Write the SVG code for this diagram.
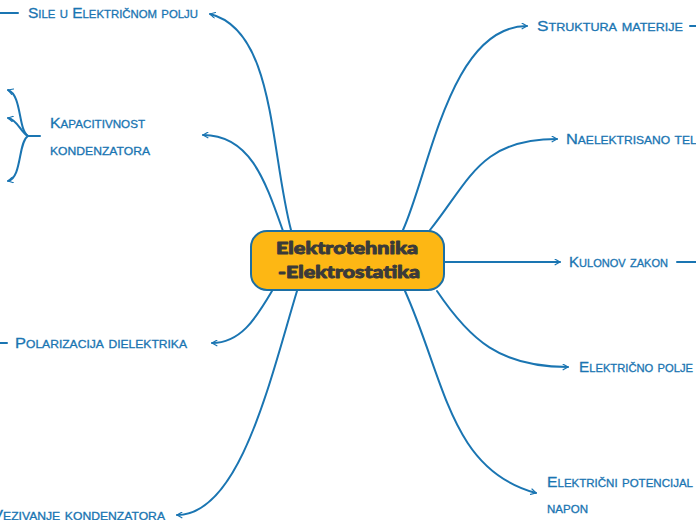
<svg xmlns="http://www.w3.org/2000/svg" width="696" height="520" viewBox="0 0 696 520">
<defs>
<marker id="arr" viewBox="0 0 10 10" refX="8" refY="5" markerWidth="7" markerHeight="7" orient="auto" markerUnits="userSpaceOnUse">
<path d="M1,1 L8,5 L1,9" fill="none" stroke="#1a75b2" stroke-width="1.7" stroke-linecap="round" stroke-linejoin="round"/>
</marker>
<style>
.c{fill:none;stroke:#1a75b2;stroke-width:2;stroke-linecap:round}
.a{marker-end:url(#arr)}
.t{font-family:"Liberation Sans",Arial,sans-serif;font-size:15px;font-variant:small-caps;fill:#1a75b2;stroke:#1a75b2;stroke-width:0.3}
.m{font-family:Lato,"Liberation Sans",sans-serif;font-weight:900;font-size:17px;fill:#3a3a3a;stroke:#3a3a3a;stroke-width:0.9;stroke-linejoin:round}
</style>
</defs>
<rect width="696" height="520" fill="#ffffff"/>
<g id="connectors">
<path class="c a" d="M291,230 C270,150 275,30 210,14"/>
<path class="c a" d="M283,231 C265,180 250,135 203,135"/>
<path class="c a" d="M272,291 C255,320 240,343 212,343"/>
<path class="c a" d="M297,291 C270,380 240,515 177,515"/>
<path class="c a" d="M403,230 C430,170 450,26 527,26"/>
<path class="c a" d="M430,230 C470,180 480,139 557,139"/>
<path class="c a" d="M444,262 L560,262"/>
<path class="c a" d="M437,291 C470,340 500,367 568,367"/>
<path class="c a" d="M405,291 C445,380 450,470 536,493"/>
<path class="c" d="M0,13 L18,13"/>
<path class="c" d="M0,343 L7,343"/>
<path class="c" d="M690,26 L696,26"/>
<path class="c" d="M677,262 L696,262"/>
<path class="c" d="M40,136 L28,136"/>
<path class="c a" d="M28,136 C18,130 22,95 8,90"/>
<path class="c a" d="M28,136 C20,132 18,120 8,118"/>
<path class="c a" d="M28,136 C18,142 22,178 8,181"/>
</g>
<g id="center">
<rect x="251" y="231" width="193" height="59" rx="16" fill="#fdb714" stroke="#1c6fa4" stroke-width="2"/>
<text class="m" x="276" y="254" textLength="142" lengthAdjust="spacingAndGlyphs">Elektrotehnika</text>
<text class="m" x="278" y="278" textLength="142" lengthAdjust="spacingAndGlyphs">-Elektrostatika</text>
</g>
<g id="sile"><text class="t" x="28" y="18" textLength="170" lengthAdjust="spacingAndGlyphs">Sile u Električnom polju</text></g>
<g id="kapacitivnost">
<text class="t" x="50" y="128" textLength="95" lengthAdjust="spacingAndGlyphs">Kapacitivnost</text>
<text class="t" x="50" y="155" textLength="100" lengthAdjust="spacingAndGlyphs">kondenzatora</text>
</g>
<g id="polarizacija"><text class="t" x="15" y="348" textLength="172" lengthAdjust="spacingAndGlyphs">Polarizacija dielektrika</text></g>
<g id="vezivanje"><text class="t" x="-8" y="520" textLength="173" lengthAdjust="spacingAndGlyphs">Vezivanje kondenzatora</text></g>
<g id="struktura"><text class="t" x="537" y="31" textLength="146" lengthAdjust="spacingAndGlyphs">Struktura materije</text></g>
<g id="naelektrisano"><text class="t" x="566" y="144" textLength="140" lengthAdjust="spacingAndGlyphs">Naelektrisano telo</text></g>
<g id="kulonov"><text class="t" x="569" y="267" textLength="99" lengthAdjust="spacingAndGlyphs">Kulonov zakon</text></g>
<g id="polje"><text class="t" x="579" y="372" textLength="114" lengthAdjust="spacingAndGlyphs">Električno polje</text></g>
<g id="potencijal">
<text class="t" x="547" y="487" textLength="146" lengthAdjust="spacingAndGlyphs">Električni potencijal</text>
<text class="t" x="547" y="513" textLength="41" lengthAdjust="spacingAndGlyphs">napon</text>
</g>
</svg>
